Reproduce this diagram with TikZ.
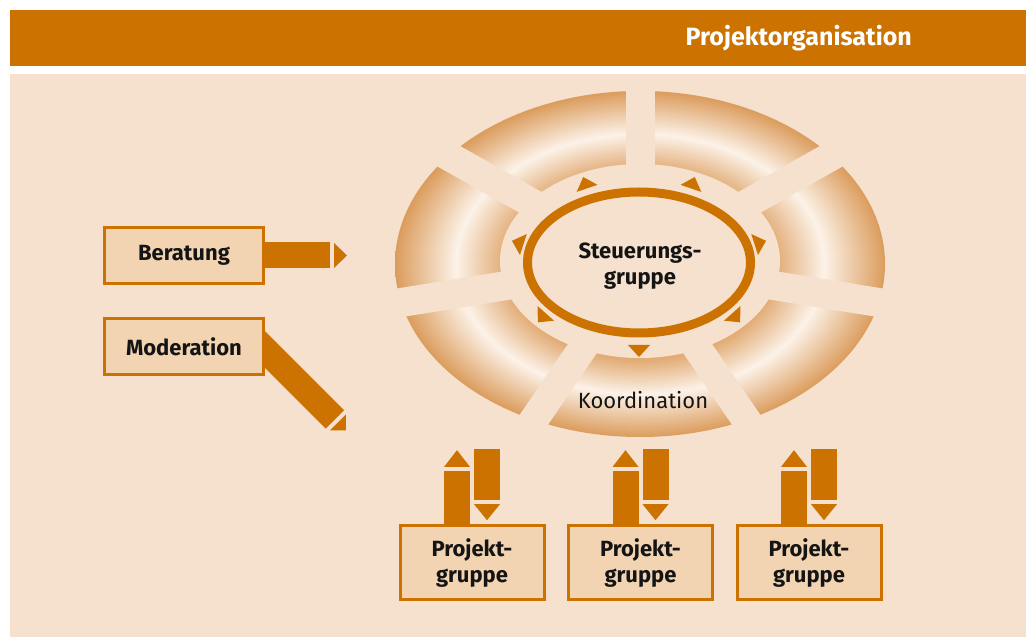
\documentclass[tikz,border=0pt]{standalone}
\usepackage{fontspec}
\setmainfont{Fira Sans}
\usetikzlibrary{shapes.geometric}

\definecolor{accent}{RGB}{204,114,0}
\definecolor{panel}{RGB}{245,225,206}
\definecolor{boxfill}{RGB}{242,211,178}
\definecolor{ink}{RGB}{20,20,20}
\definecolor{ringout}{RGB}{219,156,92}
\definecolor{ringin}{RGB}{226,172,118}
\definecolor{ringlight}{RGB}{252,242,232}

% light band running round the middle of the ring
\pgfdeclareradialshading{ringshade}{\pgfpointorigin}{%
  color(0bp)=(ringin); color(13.9bp)=(ringin); color(18.8bp)=(ringlight);
  color(25bp)=(ringout); color(50bp)=(ringout)}

\tikzset{
  lbl/.style={font=\fontsize{22}{26}\selectfont\bfseries, text=ink, align=center, inner sep=0pt},
  box/.style={draw=accent, line width=3pt, fill=boxfill, inner sep=0pt},
  shaft/.style={draw=accent, line width=26pt},
  gapline/.style={draw=panel, line width=29pt},
  tri/.style={fill=accent},
}

\begin{document}
\begin{tikzpicture}[x=1pt, y=1pt]
  \useasboundingbox (0,0) rectangle (1026,637);
  \fill[white] (0,0) rectangle (1026,637);

  % title band and panel
  \fill[accent] (10,571) rectangle (1026,627);
  \fill[panel] (10,0) rectangle (1026,563);
  \node[anchor=base east, font=\fontsize{25}{30}\selectfont\bfseries, text=white, inner sep=0pt]
    (title) at (912,591) {Projektorganisation};

  % segmented ring
  \coordinate (ringc) at (640,373);
  \shade[shading=ringshade] (ringc) ellipse [x radius=245pt, y radius=173pt];
  \fill[panel] (640,376) ellipse [x radius=140pt, y radius=97pt];
  \begin{scope}
    \clip (ringc) ellipse [x radius=248pt, y radius=176pt];
    \foreach \k in {0,...,6}{
      \pgfmathsetmacro\t{90+\k*360/7}
      \draw[gapline] (ringc) -- ++({300*cos(\t)},{212*sin(\t)});
    }
  \end{scope}

  % steering group
  \node[ellipse, draw=accent, line width=9pt, minimum width=223pt, minimum height=141pt,
        inner sep=0pt] (steer) at (639,374.5) {};
  \node[lbl] (steertext) at (640,371) {Steuerungs-\\gruppe};
  \begin{scope}[shift={(639,374.5)}]
    \foreach \k in {0,...,6}{
      \pgfmathsetmacro\t{270+\k*360/7}
      \pgfmathsetmacro\r{atan2(123*sin(\t),87*cos(\t))}
      \fill[tri, shift={({123*cos(\t)},{87*sin(\t)})}, rotate=\r]
        (7.5,0) -- (-4.5,11) -- (-4.5,-11) -- cycle;
    }
  \end{scope}
  \node[font=\fontsize{22}{26}\selectfont, text=ink, inner sep=0pt] (koord) at (643,237) {Koordination};

  % advice and moderation
  \draw[shaft] (265,381.5) -- (330,381.5) coordinate (berend);
  \draw[shaft] (245,307.5) -- (335,217.5) coordinate (modend);
  \node[box, lbl, minimum width=159pt, minimum height=56pt] (ber) at (184,381.5) {Beratung};
  \node[box, lbl, minimum width=159pt, minimum height=56pt] (mod) at (184,290.5) {Moderation};
  \fill[tri] ([xshift=4pt]berend) ++(0,-12.5) -- ++(0,25) -- ++(13,-12.5) -- cycle;
  \fill[tri, shift={(338,214.5)}, rotate=-45] (0,-11) -- (0,11) -- (11,0) -- cycle;

  % project groups
  \foreach \n/\x in {pg1/472, pg2/640.5, pg3/809}{
    \node[box, lbl, minimum width=144pt, minimum height=74pt] (\n) at (\x,74) {Projekt-\\gruppe};
    \draw[shaft] ([xshift=-15pt]\n.north) -- ++(0,53.6) coordinate (\n up);
    \fill[tri] ([xshift=-15pt]\n.north) ++(-13,57.6) -- ++(26,0) -- ++(-13,16.7) -- cycle;
    \draw[shaft] ([xshift=15pt]\n.north) ++(0,75.3) coordinate (\n down) -- ++(0,-51);
    \fill[tri] ([xshift=15pt]\n.north) ++(-13,20.3) -- ++(26,0) -- ++(-13,-16) -- cycle;
  }
\end{tikzpicture}
\end{document}
